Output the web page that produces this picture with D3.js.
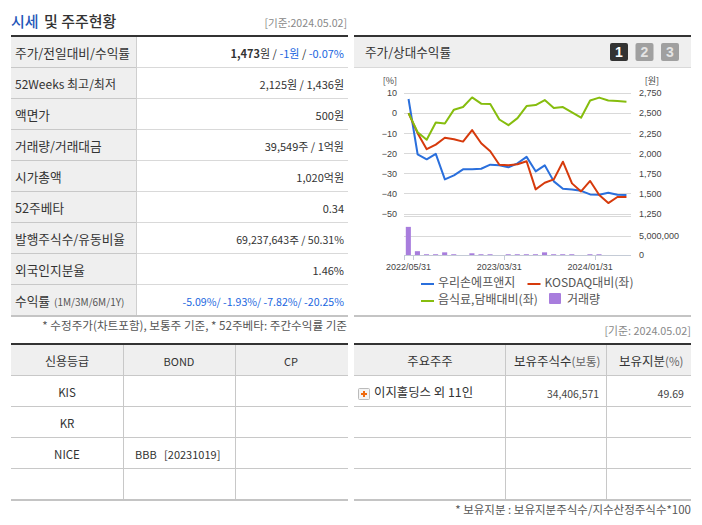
<!DOCTYPE html>
<html>
<head>
<meta charset="utf-8">
<script src="https://d3js.org/d3.v7.min.js"></script>
<style>
  html, body { margin: 0; padding: 0; background: #fff; }
  svg { display: block; }
  text { font-family: "Noto Sans CJK KR", "Noto Sans", sans-serif; white-space: pre; }
  .num { font-family: "Liberation Sans", sans-serif; }
</style>
</head>
<body>
<svg id="page" width="702" height="525"></svg>
<script>
// chart values
const dates = ['2022/05/31', '2022/06/30', '2022/07/29', '2022/08/31', '2022/09/30', '2022/10/31', '2022/11/30', '2022/12/29',
  '2023/01/31', '2023/02/28', '2023/03/31', '2023/04/28', '2023/05/31', '2023/06/30', '2023/07/31', '2023/08/31',
  '2023/09/27', '2023/10/31', '2023/11/30', '2023/12/28', '2024/01/31', '2024/02/29', '2024/03/29', '2024/04/30', '2024/05/02']
const stock = [7, -20.5, -23, -20.3, -33, -31, -28, -28, -27.7, -25.7, -26, -27, -25, -21.8, -29, -26, -34, -37.7, -38, -38.7, -40.5, -40.7, -39.7, -40.7, -40.8]
const kosdaq = [0, -10, -18, -15.7, -12.3, -13, -14.2, -8.5, -15, -19, -25.7, -26, -25.5, -24, -38, -34.7, -33, -24.2, -35, -39, -33.8, -40.8, -44.8, -41.8, -41.8]
const sector = [0, -9.5, -13.3, -4.7, -5.2, 1.7, 3, 7.8, 4.7, 4.5, -3.2, -6, -2.5, 3.5, 4, 6.5, 2.5, 3, 0.3, -2.3, 6.3, 7.7, 6.3, 6, 5.7]
const volume = [7400000, 1000000, 200000, 200000, 700000, 200000, 0, 450000, 200000, 200000, 0, 200000, 200000, 200000, 200000, 700000, 200000, 200000, 200000, 0, 200000, 200000, 0, 0, 0]

const leftTicks = [10, 0, -10, -20, -30, -40, -50]
const rightTicks = [2750, 2500, 2250, 2000, 1750, 1500, 1250]
const volumeTicks = [0, 5000000]
const dateLabels = ['2022/05/31', '2023/03/31', '2024/01/31']

// table text
const priceLabels = ['주가/전일대비/수익률', '52Weeks 최고/최저', '액면가', '거래량/거래대금', '시가총액', '52주베타', '발행주식수/유동비율', '외국인지분율', '수익률']
const priceValues = ['', '2,125원 / 1,436원', '500원', '39,549주 / 1억원', '1,020억원', '0.34', '69,237,643주 / 50.31%', '1.46%', '-5.09%/ -1.93%/ -7.82%/ -20.25%']
const creditHead = ['신용등급', 'BOND', 'CP']
const creditRows = [['KIS', '', ''], ['KR', '', ''], ['NICE', 'BBB   [20231019]', ''], ['', '', '']]
const holderHead = ['주요주주', '보유주식수', '보유지분']
const holderRow = ['이지홀딩스 외 11인', '34,406,571', '49.69']

const svg = d3.select('#page')
const ink = '#333'
const rowLine = '#d9d9d9'
const headBg = '#efefef'
const blue = '#1a66e0'

function label (x, y, str, opt = {}) {
  return svg.append('text')
    .attr('x', x).attr('y', y)
    .attr('text-anchor', opt.anchor || 'start')
    .attr('font-size', opt.size || 12)
    .attr('font-weight', opt.weight || 400)
    .attr('fill', opt.color || ink)
    .text(str)
}

function hline (x1, x2, y, color, w) {
  svg.append('rect').attr('x', x1).attr('y', y).attr('width', x2 - x1).attr('height', w || 1).attr('fill', color)
}

function vline (x, y1, y2, color) {
  svg.append('rect').attr('x', x).attr('y', y1).attr('width', 1).attr('height', y2 - y1).attr('fill', color)
}

// price table, top left
label(11, 27, '시세', { size: 15, weight: 500, color: '#2456b8' })
label(44, 27, '및 주주현황', { size: 15, weight: 500 })
label(347, 27, '[기준:2024.05.02]', { anchor: 'end', size: 10.6, color: '#888' })
hline(11, 348, 35, '#333', 2)

const rowY = d3.scaleLinear().domain([0, 9]).range([37, 316])
svg.append('rect').attr('x', 11).attr('y', 37).attr('width', 125).attr('height', 279).attr('fill', headBg)
vline(136, 37, 316, '#cfcfcf')
priceLabels.forEach((d, i) => {
  if (i > 0) {
    hline(11, 136, rowY(i) - 1, '#c8c8c8')
    hline(137, 348, rowY(i) - 1, rowLine)
  }
  label(15, rowY(i) + 21, d, { size: i === 1 ? 12 : 12.7 })
  if (i !== 0) {
    label(344, rowY(i) + 21, priceValues[i], { anchor: 'end', size: i === 6 || i === 8 ? 10.6 : 11, color: i === 8 ? blue : ink })
  }
})
label(54, rowY(8) + 21, '(1M/3M/6M/1Y)', { size: 10, color: '#555' })

const first = label(344, rowY(0) + 21, '', { anchor: 'end', size: 11 })
first.append('tspan').attr('font-weight', 700).text('1,473')
first.append('tspan').text('원 / ')
first.append('tspan').attr('fill', blue).text('-1원')
first.append('tspan').text(' / ')
first.append('tspan').attr('fill', blue).text('-0.07%')

hline(11, 348, 315, '#c4c4c4', 2)
label(347, 330, '* 수정주가(차트포함), 보통주 기준, * 52주베타: 주간수익률 기준', { anchor: 'end', size: 11.6, color: '#555' })

// chart panel, top right
hline(354, 691, 35, '#333', 2)
svg.append('rect').attr('x', 354).attr('y', 37).attr('width', 337).attr('height', 30).attr('fill', headBg)
hline(354, 691, 67, '#d9d9d9')
label(365, 57, '주가/상대수익률', { size: 12.6 })

const buttons = ['1', '2', '3']
const buttonX = d3.scalePoint().domain(buttons).range([610, 661])
buttons.forEach((d, i) => {
  svg.append('rect').attr('x', buttonX(d)).attr('y', 43).attr('width', 18).attr('height', 18).attr('rx', 2)
    .attr('fill', i === 0 ? '#333' : '#a0a0a0')
  label(buttonX(d) + 9, 57, d, { anchor: 'middle', size: 14, weight: 700, color: i === 0 ? '#fff' : '#e4e4e4' }).attr('class', 'num')
})

const x = d3.scaleBand().domain(dates).range([404, 631])
const yLeft = d3.scaleLinear().domain([-50, 10]).range([213.5, 93])
const yRight = d3.scaleLinear().domain([1250, 2750]).range([213.5, 93])
const yVol = d3.scaleLinear().domain([0, 10000000]).range([255, 217])

label(397, 84, '[%]', { anchor: 'end', size: 9, color: '#444' })
label(659, 84, '[원]', { anchor: 'end', size: 9, color: '#444' })

const grid = svg.append('g').attr('stroke', '#d9d9d9').attr('stroke-width', 1)
grid.selectAll('line').data(leftTicks).enter().append('line')
  .attr('x1', 404).attr('x2', 631)
  .attr('y1', d => Math.round(yLeft(d)) + 0.5).attr('y2', d => Math.round(yLeft(d)) + 0.5)
grid.append('line').attr('x1', 404).attr('x2', 631).attr('y1', 216.5).attr('y2', 216.5)
grid.append('line').attr('x1', 404).attr('x2', 631)
  .attr('y1', Math.round(yVol(5000000)) + 0.5).attr('y2', Math.round(yVol(5000000)) + 0.5)

const axisLeft = svg.append('g').attr('transform', 'translate(404,0)')
  .call(d3.axisLeft(yLeft).tickValues(leftTicks).tickSize(0).tickPadding(7))
const axisRight = svg.append('g').attr('transform', 'translate(631,0)')
  .call(d3.axisRight(yRight).tickValues(rightTicks).tickSize(0).tickPadding(8).tickFormat(d3.format(',')))
const axisVol = svg.append('g').attr('transform', 'translate(631,0)')
  .call(d3.axisRight(yVol).tickValues(volumeTicks).tickSize(0).tickPadding(8).tickFormat(d3.format(',')))
;[axisLeft, axisRight, axisVol].forEach(a => {
  a.select('.domain').remove()
  a.selectAll('text').attr('class', 'num').attr('font-size', 9).attr('fill', '#444')
})

// volume bars
svg.append('g').selectAll('rect').data(volume).enter().append('rect')
  .attr('x', (d, i) => x(dates[i]) + 1.8)
  .attr('y', d => yVol(d))
  .attr('width', x.bandwidth() - 4)
  .attr('height', d => yVol(0) - yVol(d))
  .attr('fill', '#a87ddd')

// baseline and date ticks
hline(404, 631, 255, '#c4cbd6')
const tickAt = [0, 1, 11, 21]
svg.append('g').selectAll('rect').data(tickAt).enter().append('rect')
  .attr('x', d => Math.round(x(dates[d]))).attr('y', 255).attr('width', 1).attr('height', 5).attr('fill', '#c4cbd6')
dateLabels.forEach(d => {
  label(x(d) + x.bandwidth() / 2, 270, d, { anchor: 'middle', size: 9, color: '#444' }).attr('class', 'num')
})

// lines
const line = d3.line().x((d, i) => x(dates[i]) + x.bandwidth() / 2).y(d => yLeft(d))
const seriesList = [
  { name: '우리손에프앤지', values: stock, color: '#2a6fdc' },
  { name: 'KOSDAQ대비(좌)', values: kosdaq, color: '#d63a0c' },
  { name: '음식료,담배대비(좌)', values: sector, color: '#86bd0e' }
]
svg.append('g').selectAll('path').data(seriesList).enter().append('path')
  .attr('d', d => line(d.values))
  .attr('fill', 'none')
  .attr('stroke', d => d.color)
  .attr('stroke-width', 2)
  .attr('stroke-linejoin', 'round')

// legend
const legendPos = [[421, 287], [527.5, 287], [421, 304]]
seriesList.forEach((d, i) => {
  svg.append('rect').attr('x', legendPos[i][0]).attr('y', legendPos[i][1] - 4).attr('width', 13).attr('height', 2).attr('fill', d.color)
  label(legendPos[i][0] + 17, legendPos[i][1], d.name, { color: '#555' })
})
svg.append('rect').attr('x', 549).attr('y', 293).attr('width', 12).attr('height', 11).attr('rx', 1).attr('fill', '#a87ddd')
label(567, 304, '거래량', { color: '#555' })

hline(354, 691, 315, '#c4c4c4', 2)
label(691, 335, '[기준: 2024.05.02]', { anchor: 'end', size: 10.8, color: '#888' })

// grid table helper for the two bottom tables
function tableFrame (x1, x2, cols) {
  hline(x1, x2, 343, '#333', 2)
  svg.append('rect').attr('x', x1).attr('y', 345).attr('width', x2 - x1).attr('height', 30).attr('fill', headBg)
  ;[375, 406, 437, 468].forEach(y => hline(x1, x2, y, '#c8c8c8'))
  cols.forEach(c => vline(c, 345, 499, '#c8c8c8'))
  hline(x1, x2, 499, '#c4c4c4', 2)
}

// credit table
tableFrame(11, 348, [123, 235])
const creditCx = [67, 179, 291]
creditHead.forEach((d, i) => label(creditCx[i], 366, d, { anchor: 'middle', size: i === 0 ? 12 : 11 }))
creditRows.forEach((r, j) => {
  label(creditCx[0], 397 + j * 31, r[0], { anchor: 'middle', size: 11.5 })
  if (r[1]) label(135, 397 + j * 31, r[1], { size: 11 })
})

// shareholder table
tableFrame(354, 691, [505, 606])
label(430, 366, holderHead[0], { anchor: 'middle', size: 12.3 })
const h2 = label(514, 366, holderHead[1], { size: 12.5 })
h2.append('tspan').attr('font-size', 11.5).attr('fill', '#666').text('(보통)')
const h3 = label(619, 366, holderHead[2], { size: 12.5 })
h3.append('tspan').attr('font-size', 11.5).attr('fill', '#666').text('(%)')

svg.append('rect').attr('x', 358.5).attr('y', 388.5).attr('width', 11).attr('height', 11).attr('rx', 1)
  .attr('fill', '#f4f4f4').attr('stroke', '#bbb')
svg.append('path').attr('d', 'M361 394h6M364 391v6').attr('stroke', '#ee6a10').attr('stroke-width', 2)
label(374, 397, holderRow[0], { size: 12.4 })
label(599, 398, holderRow[1], { anchor: 'end', size: 10.4, color: '#444' })
label(684, 398, holderRow[2], { anchor: 'end', size: 10.6, color: '#444' })

label(691, 514, '* 보유지분 : 보유지분주식수/지수산정주식수*100', { anchor: 'end', size: 11.5, color: '#555' })
</script>
</body>
</html>
